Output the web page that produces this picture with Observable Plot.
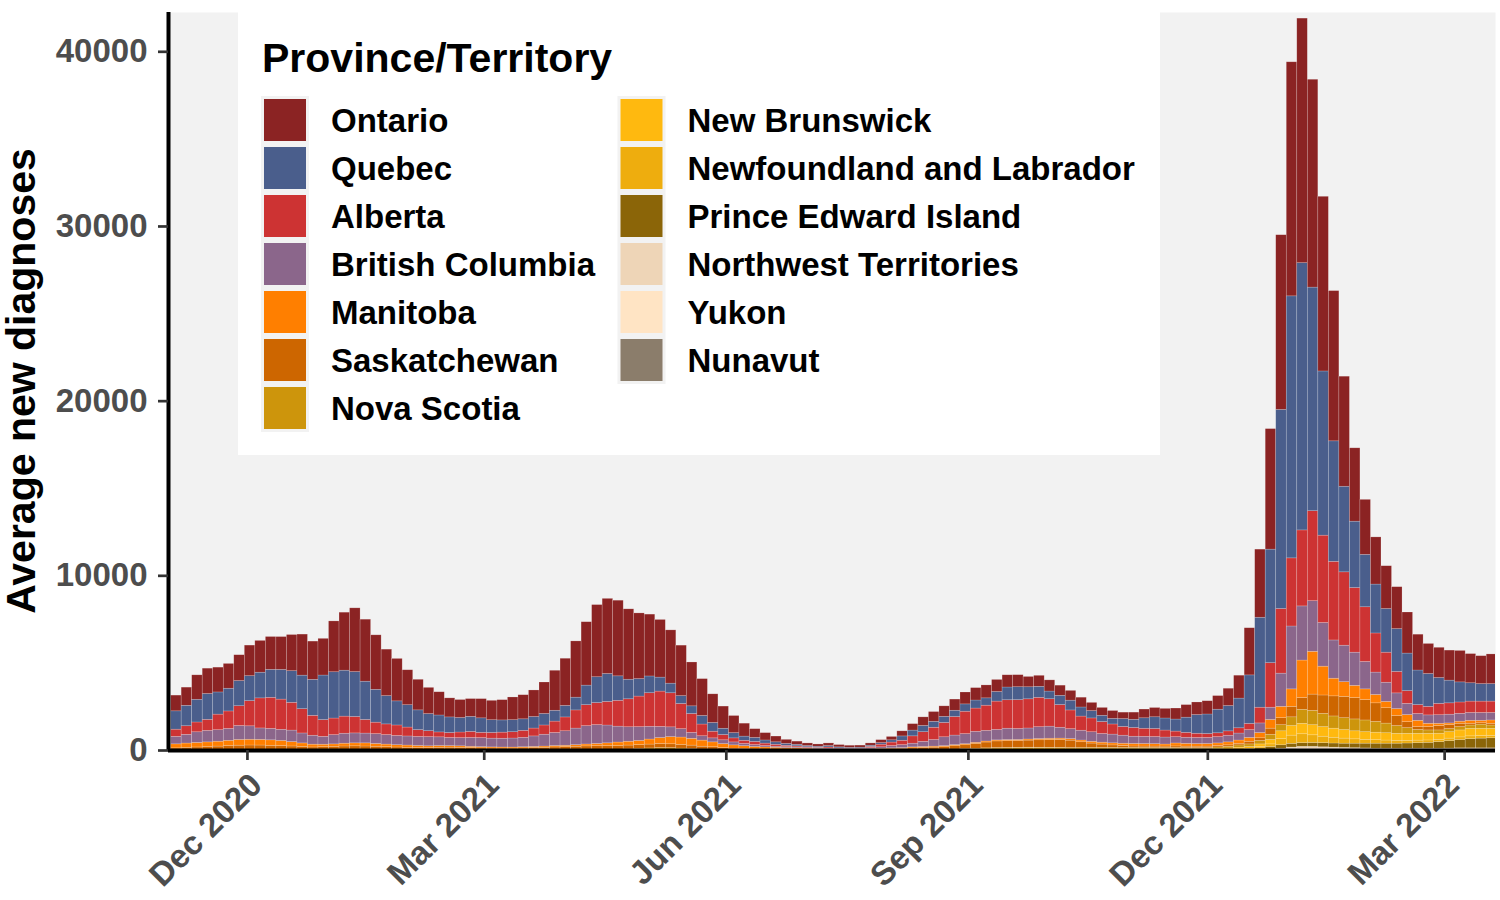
<!DOCTYPE html>
<html>
<head>
<meta charset="utf-8">
<script src="https://cdn.jsdelivr.net/npm/d3@7"></script>
<script src="https://cdn.jsdelivr.net/npm/@observablehq/plot@0.6"></script>
<style>
  html, body { margin: 0; padding: 0; background: #ffffff; }
  #chart { width: 1500px; height: 900px; }
  #chart svg g[aria-label="y-axis tick label"] text,
  #chart svg g[aria-label="x-axis tick label"] text { font-weight: bold; fill: #4d4d4d !important; }
  #chart svg g[aria-label="y-axis tick"] *,
  #chart svg g[aria-label="x-axis tick"] * { stroke: #333333 !important; stroke-width: 2.7px !important; }
</style>
</head>
<body>
<div id="chart"></div>
<script>
// ---- categories (legend order = top of stack first) ----
const provinces = ["Ontario","Quebec","Alberta","British Columbia","Manitoba","Saskatchewan","Nova Scotia",
  "New Brunswick","Newfoundland and Labrador","Prince Edward Island","Northwest Territories","Yukon","Nunavut"];
const colors = ["#8b2323","#4a5e8c","#cd3333","#8b668b","#ff7f00","#cd6600","#cd950c",
  "#ffb90f","#eead0e","#8b6508","#eed5b7","#ffe4c4","#8b7d6b"];

// ---- axis ticks ----
const tickDates = ["2020-12-01","2021-03-01","2021-06-01","2021-09-01","2021-12-01","2022-03-01"];
const tickLabels = ["Dec 2020","Mar 2021","Jun 2021","Sep 2021","Dec 2021","Mar 2022"];
const yTicks = [0, 10000, 20000, 30000, 40000];
const yTitle = "Average new diagnoses";
const legendTitle = "Province/Territory";

// ---- time bins: 4-day periods starting 2020-11-02 ----
const firstBin = "2020-11-02";
const binDays = 4;

// ---- average new diagnoses per 4-day bin (126 bins) ----
const ontario = [900,1040,1400,1450,1420,1420,1480,1750,1820,1880,1880,2070,2350,2190,2100,2910,3320,3650,3550,3120,2660,2430,2000,1750,1500,1330,1090,1030,1020,1100,1110,1160,
1300,1380,1520,1800,2290,2700,3220,3630,4130,4300,4330,4030,3760,3540,3300,3050,2890,2510,2110,1640,1270,980,740,500,420,330,230,180,150,130,150,
130,120,120,130,170,190,290,370,490,560,600,640,680,710,740,690,700,690,590,630,640,580,560,560,470,450,450,370,410,500,530,550,
630,720,720,760,780,990,1310,2700,3900,6900,10000,13400,14000,11900,10000,8600,6300,4200,3150,2700,2450,2400,2350,2050,1720,1730,1720,1800,1670,1600,1700];
const quebec = [1050,1170,1300,1480,1270,1300,1440,1430,1470,1600,1700,1810,1920,2060,2550,2650,2630,2570,2190,1880,1620,1380,1280,1130,980,970,895,830,860,830,730,700,
690,660,660,660,620,660,730,1120,1480,1600,1400,1120,1000,960,800,550,450,440,490,500,360,300,240,230,180,140,110,90,70,60,80,
60,55,60,70,90,130,250,330,360,340,350,360,420,460,420,550,730,740,690,630,440,530,560,520,420,360,320,450,470,600,670,690,
690,870,1070,1120,1350,1450,1700,2780,5150,6500,11400,15000,15300,12800,9400,6900,4900,3800,3000,2800,2500,2450,2150,1980,1880,1480,1300,1150,1050,1000,1000];
const alberta = [410,490,560,630,890,1000,1130,1440,1720,1780,1730,1590,1390,1140,960,950,980,940,780,655,610,600,510,390,340,280,280,320,345,300,325,350,
360,400,450,530,650,790,1040,1200,1260,1350,1480,1600,1750,1920,2020,1950,1440,1080,670,380,300,230,180,180,140,110,80,60,45,35,60,
35,30,35,70,150,200,250,420,550,700,820,1060,1280,1330,1440,1620,1630,1650,1670,1680,1570,1300,1070,810,790,680,580,500,500,460,460,400,
320,280,240,220,220,250,300,350,900,2550,3700,3900,4350,5150,5000,4500,4200,3700,3130,2240,1720,1230,730,510,490,650,650,650,650,650,650];
const britishColumbia = [430,500,610,660,660,680,800,770,655,655,635,660,570,510,450,530,570,570,560,565,545,530,520,520,525,500,470,470,505,520,500,500,
515,540,600,675,750,830,950,1050,1080,1020,910,830,790,730,640,560,480,340,250,230,220,170,130,110,80,60,50,45,35,35,40,
30,25,30,60,80,130,170,210,295,380,510,550,580,630,610,600,650,630,630,680,690,620,570,560,550,500,500,460,415,415,410,400,
360,350,350,350,360,380,400,450,550,700,1900,3600,3100,2900,2500,2190,2090,1900,1570,1280,1100,900,640,390,480,490,500,450,450,450,430];
const manitoba = [230,250,260,270,280,300,330,330,325,315,295,250,200,160,140,140,160,170,180,160,145,130,130,120,105,100,90,90,80,70,65,60,
60,65,70,75,80,80,90,110,130,160,200,220,240,290,340,410,420,390,350,280,220,190,160,140,120,100,80,70,50,40,35,
25,20,15,30,35,40,45,60,60,60,60,60,60,60,60,60,60,60,65,70,80,80,90,100,100,110,120,130,145,145,140,120,
170,160,150,150,150,170,190,220,300,500,650,1000,2150,2450,1650,1010,840,700,610,480,360,390,410,360,190,130,90,120,170,140,190];
const saskatchewan = [105,125,145,165,195,225,245,255,255,245,235,215,195,165,180,195,205,210,200,185,170,155,140,125,115,110,105,100,100,100,100,100,
100,110,125,140,160,175,195,210,220,225,220,220,220,220,230,220,210,200,160,140,120,90,75,50,40,40,35,35,30,25,25,
20,15,15,40,60,75,80,105,120,135,150,190,220,280,330,380,390,390,405,430,440,450,420,330,250,190,140,110,80,80,80,80,
90,80,80,80,80,80,90,150,150,350,400,600,670,930,1050,1150,1220,1220,1170,1060,880,580,340,160,190,250,230,190,100,80,100];
const novaScotia = [8,8,8,8,10,12,12,14,14,12,10,8,6,5,5,4,4,3,3,3,3,2,2,2,2,2,2,2,2,3,4,5,
4,4,4,5,5,6,6,8,8,10,20,40,60,90,120,120,100,70,50,40,20,10,8,5,4,3,2,2,2,2,2,
2,2,2,2,3,3,3,4,5,5,6,8,10,12,15,18,20,25,30,30,30,30,28,28,30,32,35,38,40,40,42,45,
50,50,55,60,80,100,130,150,200,300,350,500,800,820,760,700,680,680,670,620,550,445,325,225,195,190,180,190,190,240,190];
const newBrunswick = [3,3,3,4,4,5,5,6,6,5,5,4,3,3,5,10,20,25,25,25,20,15,10,6,4,3,3,3,3,4,5,5,
5,5,6,6,8,10,12,14,14,12,10,10,12,15,15,12,10,8,6,5,4,3,2,2,2,1,1,1,1,1,1,
1,1,1,2,3,4,5,6,10,12,15,20,30,40,55,65,75,80,85,85,85,85,80,80,75,70,65,60,60,60,62,65,
65,65,60,60,70,80,100,100,150,250,450,550,600,580,550,520,490,460,440,430,420,400,400,390,380,350,370,400,430,410,400];
const newfoundland = [1,1,1,1,1,1,2,2,2,1,1,1,1,1,1,1,1,1,1,1,1,1,2,5,15,40,50,45,30,15,5,3,
2,2,2,2,2,2,2,3,3,3,3,3,3,3,2,2,2,1,1,1,1,1,1,1,1,0,0,0,0,0,0,
0,0,0,0,1,1,1,1,1,1,1,2,2,2,2,3,3,4,5,5,6,6,6,6,8,10,12,12,12,12,12,12,
10,8,5,3,5,10,20,40,80,150,350,470,510,440,370,330,290,250,220,200,180,165,155,145,135,130,140,150,160,150,140];
const princeEdward = [1,1,1,1,1,1,1,1,1,1,1,1,0,0,0,0,0,0,0,0,0,0,0,0,0,0,0,0,0,0,0,0,
0,0,0,0,0,0,0,0,0,1,1,1,1,1,0,0,0,0,0,0,0,0,0,0,0,0,0,0,0,0,0,
0,0,0,0,0,0,0,0,0,0,0,0,1,1,1,1,1,1,1,1,1,1,2,2,3,3,3,2,2,3,4,4,
3,3,3,3,5,10,20,38,92,145,195,210,210,220,235,235,240,255,270,285,285,285,295,315,335,375,425,475,525,555,575];
const northwest = [0,0,0,0,0,0,0,0,0,0,0,0,0,0,0,0,0,0,0,0,0,0,0,0,0,0,0,0,0,0,0,0,
0,0,0,0,0,0,0,0,0,0,0,0,0,0,0,0,0,0,0,0,0,0,0,0,0,0,0,0,0,0,0,
0,0,0,0,1,1,2,3,5,8,15,25,35,45,50,50,45,40,35,30,25,20,15,12,10,8,6,5,5,5,5,5,
5,5,5,5,5,5,8,10,15,30,60,100,120,120,110,100,90,80,70,60,60,60,60,60,60,60,70,80,80,80,80];
const yukon = [0,1,1,1,1,2,2,3,3,2,2,1,1,1,1,0,0,0,0,0,0,0,0,0,0,0,0,0,0,0,0,0,
0,0,0,0,0,0,0,0,0,0,0,0,0,0,0,0,0,0,0,0,0,0,0,3,8,15,22,25,22,18,12,
8,5,3,2,1,1,1,1,1,1,1,1,2,2,3,3,3,3,5,5,8,10,12,15,20,25,30,30,28,22,15,10,
8,8,10,10,10,10,12,10,10,15,25,40,50,50,40,35,30,25,20,20,20,20,20,20,20,20,20,20,20,20,20];
const nunavut = [5,10,15,15,12,10,8,5,3,2,1,1,0,0,0,0,0,0,0,0,0,0,0,0,0,0,0,0,0,0,0,0,
0,0,0,0,0,0,0,0,0,0,2,8,12,10,6,3,1,0,0,0,0,0,0,0,0,0,0,0,0,0,0,
0,0,0,0,0,0,0,0,0,0,0,0,0,0,0,0,0,0,0,0,0,0,0,0,0,0,0,1,2,3,3,2,
2,1,1,1,1,1,2,2,3,10,20,30,40,40,35,30,30,30,30,25,25,25,25,25,25,25,25,25,25,25,25];

const seriesValues = [ontario, quebec, alberta, britishColumbia, manitoba, saskatchewan, novaScotia,
  newBrunswick, newfoundland, princeEdward, northwest, yukon, nunavut];

// ---- build the long table (stack bottom = last province in legend) ----
const DAY = 864e5;
const nBins = ontario.length;
seriesValues.forEach((s, k) => { if (s.length !== nBins) console.warn("length mismatch", provinces[k], s.length); });
const t0 = new Date(firstBin + "T00:00:00Z").getTime();
const binEdges = d3.range(nBins + 1).map(i => new Date(t0 + i * binDays * DAY));
const stackOrder = provinces.map((p, k) => k).reverse();
const rows = [];
for (let i = 0; i < nBins; i++) {
  for (const k of stackOrder) {
    rows.push({start: binEdges[i], end: binEdges[i + 1], province: provinces[k], value: seriesValues[k][i]});
  }
}

const xDomain = [new Date(Date.UTC(2020, 10, 1)), new Date(Date.UTC(2022, 2, 20, 8))];
const tickDateObjs = tickDates.map(d => new Date(d + "T00:00:00Z"));
const tickLabelMap = new Map(tickDateObjs.map((d, i) => [+d, tickLabels[i]]));
const FONT = "'Liberation Sans', Arial, Helvetica, sans-serif";

const chart = Plot.plot({
  width: 1500,
  height: 900,
  marginLeft: 168,
  marginRight: 5,
  marginTop: 12,
  marginBottom: 150,
  style: {fontFamily: FONT, background: "#ffffff", overflow: "visible"},
  x: {type: "utc", domain: xDomain},
  y: {domain: [0, 42250]},
  color: {domain: provinces, range: colors},
  marks: [
    Plot.frame({fill: "#f2f2f2", stroke: "none"}),
    Plot.rectY(rows, {x1: "start", x2: "end", y: "value", fill: "province",
      stroke: "#ffffff", strokeOpacity: 0.3, strokeWidth: 0.6, clip: true}),
    Plot.ruleY([0], {stroke: "#000000", strokeWidth: 4}),
    Plot.ruleX([xDomain[0]], {stroke: "#000000", strokeWidth: 4}),
    Plot.axisY({ticks: yTicks, tickFormat: d => String(d), tickSize: 10, tickPadding: 11,
      fontSize: 33, label: null}),
    // tick marks only
    Plot.axisX({ticks: tickDateObjs, tickFormat: () => "", tickSize: 10, label: null}),
    // rotated tick labels only
    Plot.axisX({ticks: tickDateObjs, tickFormat: d => tickLabelMap.get(+d), tickRotate: -45,
      tickSize: 0, tickPadding: 29, dx: 9, fontSize: 33, label: null})
  ]
});

// ---- y-axis title and in-panel legend ----
const svg = d3.select(chart);
svg.append("text")
  .attr("transform", "translate(35,381) rotate(-90)")
  .attr("text-anchor", "middle")
  .attr("font-family", FONT).attr("font-weight", "bold").attr("font-size", 41)
  .attr("fill", "#000000")
  .text(yTitle);

const lg = svg.append("g").attr("font-family", FONT).attr("font-weight", "bold").attr("text-anchor", "start");
lg.append("rect").attr("x", 238).attr("y", 12).attr("width", 922).attr("height", 443).attr("fill", "#ffffff");
lg.append("text").attr("x", 262).attr("y", 72).attr("font-size", 41).attr("fill", "#000000")
  .attr("text-anchor", "start").text(legendTitle);
const perCol = 7;
const colX = [261, 617.5];
const labelX = [331, 687.5];
const rowH = 48;
[0, 1].forEach(c => {
  const n = c === 0 ? perCol : provinces.length - perCol;
  lg.append("rect").attr("x", colX[c]).attr("y", 96).attr("width", 48).attr("height", n * rowH).attr("fill", "#f2f2f2");
});
provinces.forEach((p, k) => {
  const c = k < perCol ? 0 : 1;
  const r = c === 0 ? k : k - perCol;
  lg.append("rect").attr("x", colX[c] + 3).attr("y", 96 + r * rowH + 3)
    .attr("width", 42).attr("height", 42).attr("fill", colors[k]);
  lg.append("text").attr("x", labelX[c]).attr("y", 96 + r * rowH + 24).attr("dy", "0.36em")
    .attr("text-anchor", "start")
    .attr("font-size", 33).attr("fill", "#000000").text(p);
});

document.getElementById("chart").appendChild(chart);
</script>
</body>
</html>
